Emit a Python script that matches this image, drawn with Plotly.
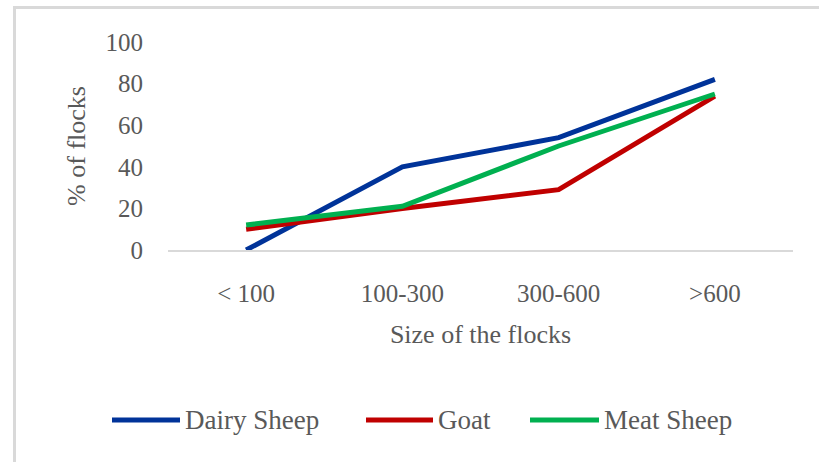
import plotly.graph_objects as go

# Flock size classes and share of flocks (%) per production type
size_classes = ["< 100", "100-300", "300-600", ">600"]
dairy_sheep = [0, 40, 54, 82]
goat = [10, 20, 29, 74]
meat_sheep = [12, 21, 50, 75]

series_names = ["Dairy Sheep", "Goat", "Meat Sheep"]
series_values = [dairy_sheep, goat, meat_sheep]
series_colors = ["#003399", "#C00000", "#00B050"]

y_ticks = [0, 20, 40, 60, 80, 100]

W, H = 819, 462
L, R, T, B = 168, 26, 42, 212
FONT = "Liberation Serif"
GREY = "#595959"


def px_x(px):
    return (px - L) / (W - L - R)


def px_y(py):
    return 1 - (py - T) / (H - T - B)


fig = go.Figure()
for name, vals, col in zip(series_names, series_values, series_colors):
    fig.add_trace(go.Scatter(
        x=size_classes, y=vals, name=name, mode="lines",
        line=dict(color=col, width=5), showlegend=False,
    ))

shapes = [
    # chart frame
    dict(type="rect", xref="paper", yref="paper",
         x0=px_x(14.5), x1=px_x(840), y0=px_y(7.5), y1=px_y(480),
         line=dict(color="#D9D9D9", width=3), layer="below"),
]
annotations = []

# legend row drawn below the plot
legend_items = [(112, 180), (366, 433), (530, 599)]
ly = px_y(420)
for (x0, x1), name, col in zip(legend_items, series_names, series_colors):
    shapes.append(dict(type="line", xref="paper", yref="paper",
                       x0=px_x(x0), x1=px_x(x1), y0=ly, y1=ly,
                       line=dict(color=col, width=5)))
    annotations.append(dict(xref="paper", yref="paper", x=px_x(x1 + 3), y=ly,
                            text=name, showarrow=False, xanchor="left",
                            yanchor="middle",
                            font=dict(family=FONT, size=27, color=GREY)))

fig.update_layout(
    width=W, height=H,
    margin=dict(l=L, r=R, t=T, b=B, pad=0),
    paper_bgcolor="white", plot_bgcolor="white",
    font=dict(family=FONT, color=GREY, size=26),
    shapes=shapes, annotations=annotations,
    xaxis=dict(
        type="category", range=[-0.5, 3.5],
        showline=True, linecolor="#D9D9D9", linewidth=1.5,
        showgrid=False, zeroline=False, ticks="",
        ticklabelstandoff=20,
        tickfont=dict(family=FONT, size=25, color=GREY),
        title=dict(text="Size of the flocks", standoff=19,
                   font=dict(family=FONT, size=26, color=GREY)),
    ),
    yaxis=dict(
        range=[0, 100], tickvals=y_ticks,
        showgrid=False, zeroline=False, showline=False, ticks="",
        ticklabelstandoff=24,
        tickfont=dict(family=FONT, size=25, color=GREY),
        title=dict(text="% of flocks", standoff=12,
                   font=dict(family=FONT, size=26, color=GREY)),
    ),
)

fig.write_html("out.html")
